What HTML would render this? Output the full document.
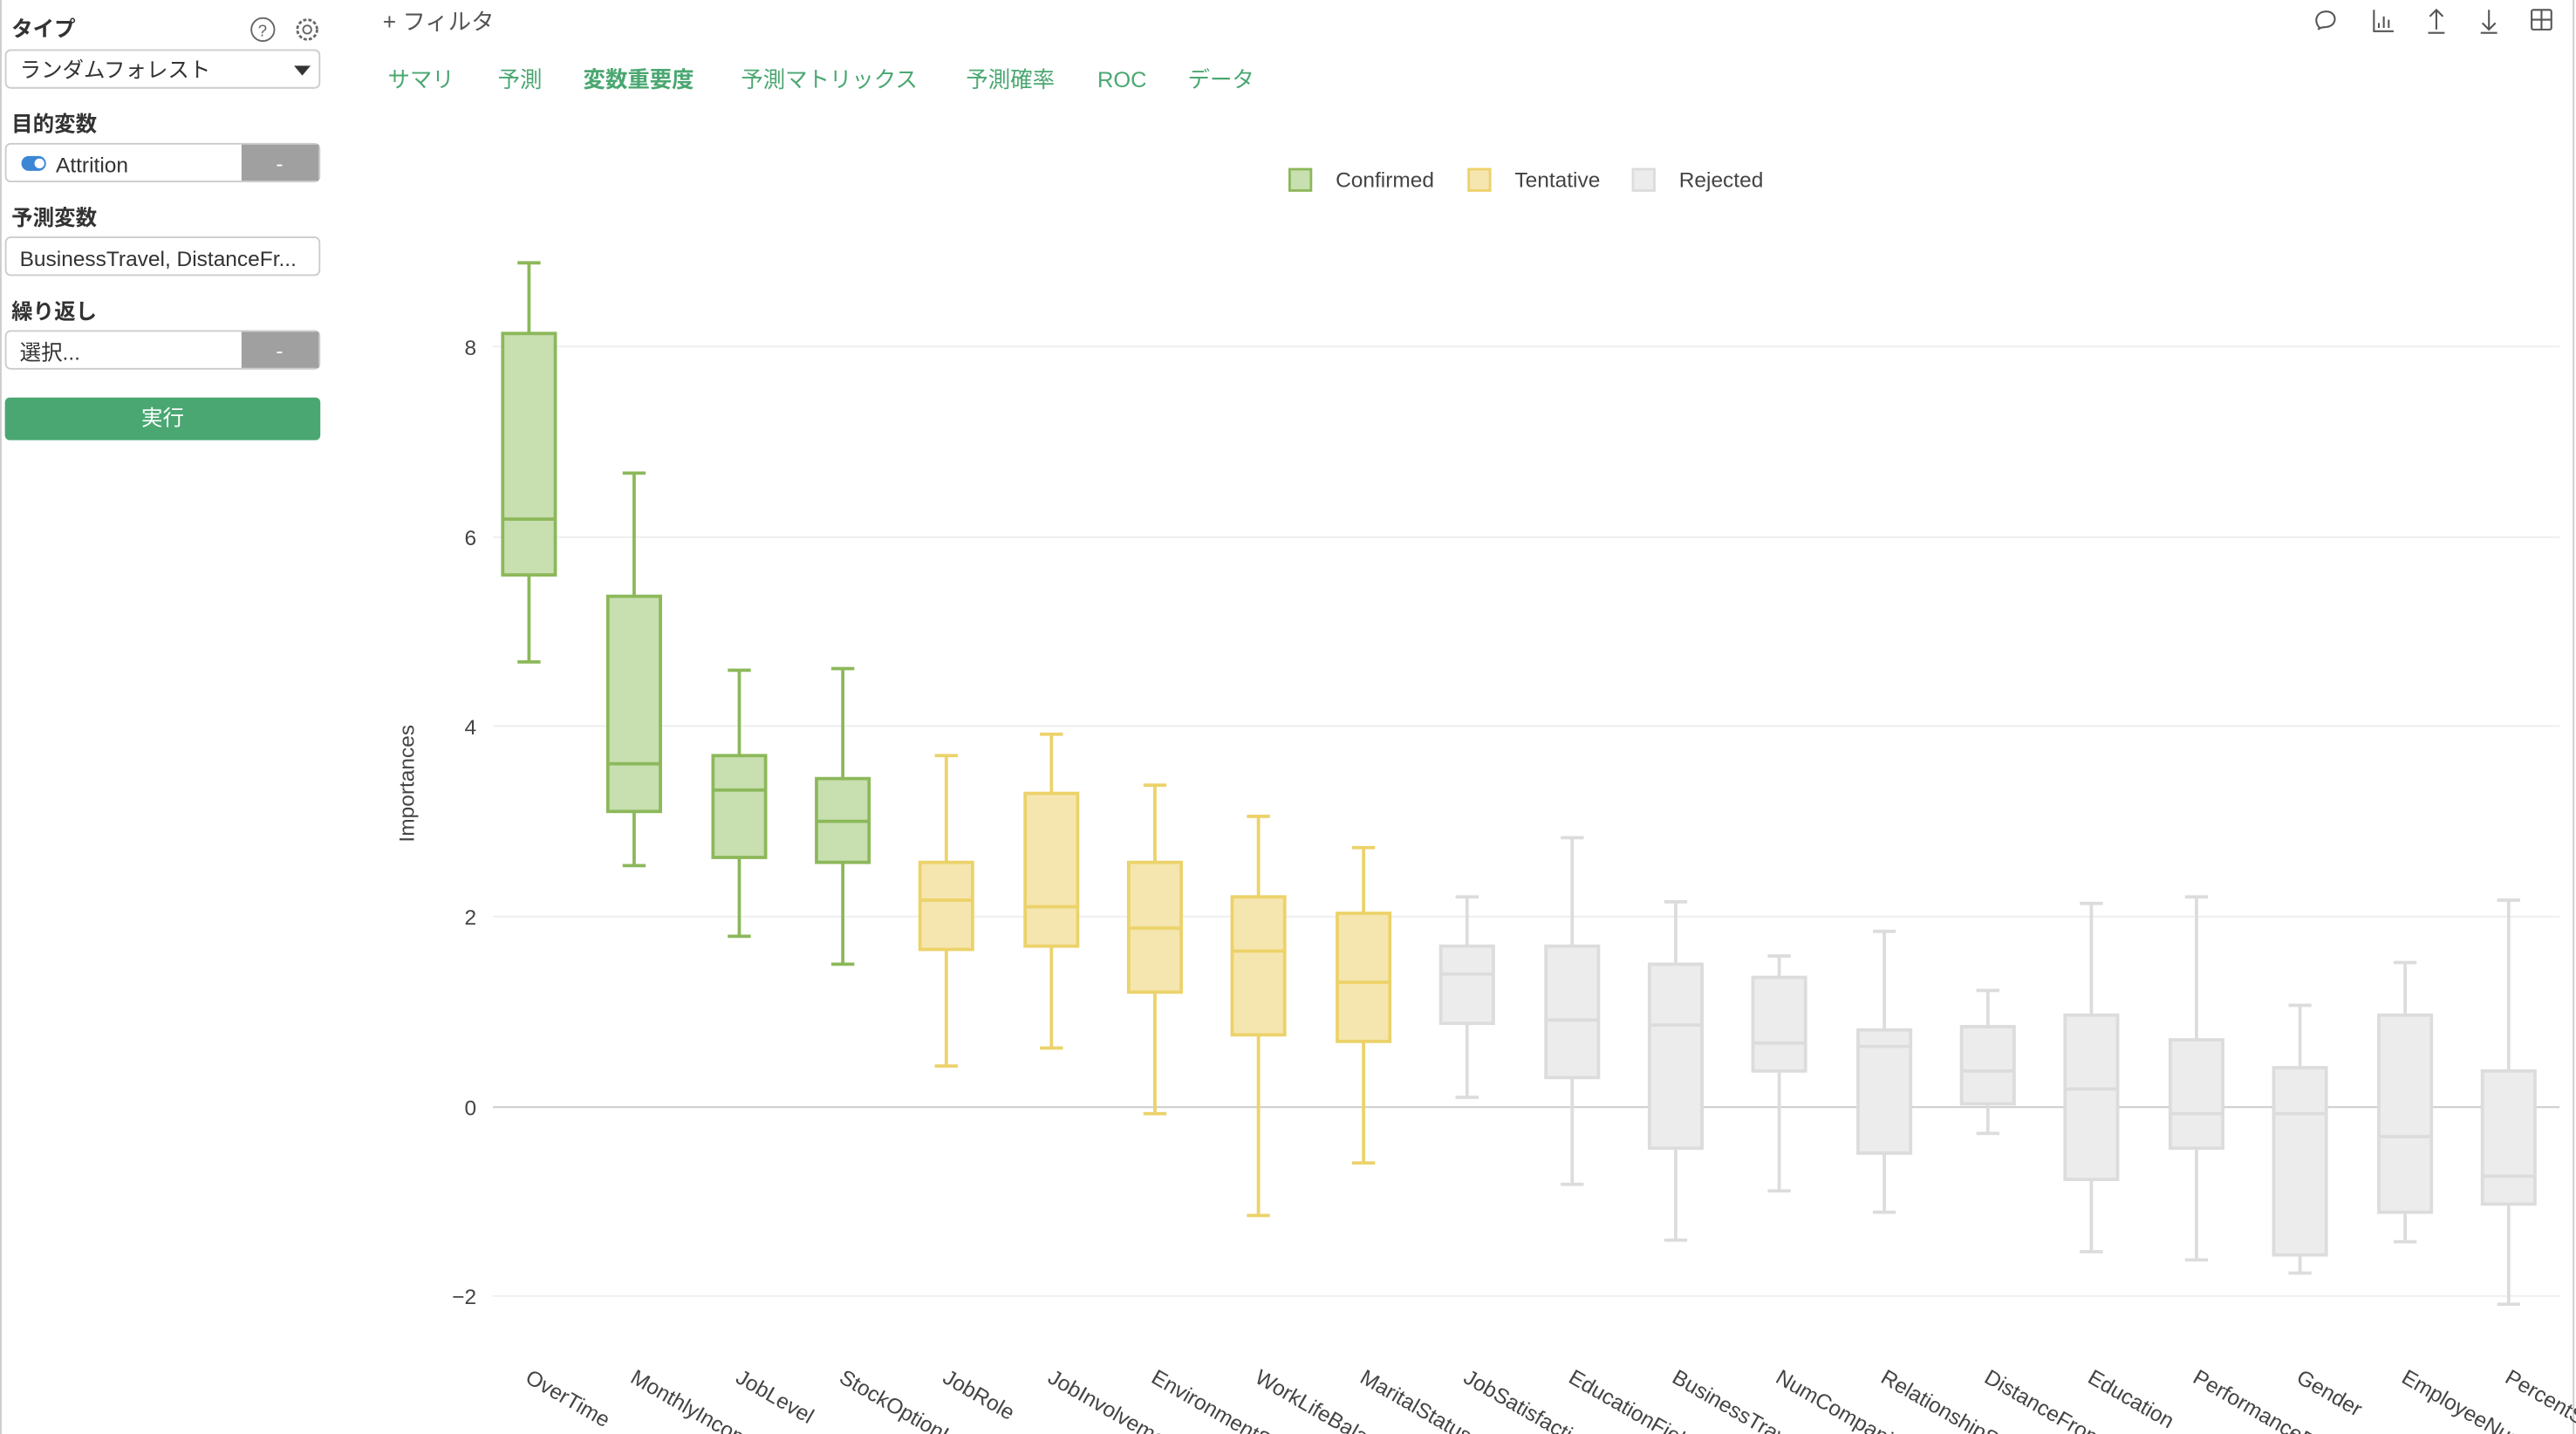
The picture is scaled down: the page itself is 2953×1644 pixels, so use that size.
<!DOCTYPE html>
<html><head><meta charset="utf-8"><style>
html,body{margin:0;padding:0;background:#fff;overflow:hidden}
svg{display:block}
text{font-family:"Liberation Sans","Noto Sans CJK JP",sans-serif}
</style></head><body>
<svg width="2953" height="1644" viewBox="0 0 1568 873" preserveAspectRatio="none" xmlns="http://www.w3.org/2000/svg">
<rect width="1568" height="873" fill="#fff"/>
<line x1="0.5" y1="0" x2="0.5" y2="873" stroke="#ccc"/>
<line x1="1566.5" y1="0" x2="1566.5" y2="873" stroke="#ccc"/>
<g font-size="13" fill="#333">
<text x="7" y="22" font-weight="bold">タイプ</text>
<circle cx="160" cy="18" r="7" fill="none" stroke="#666"/><text x="157" y="22" font-size="10" fill="#666">?</text>
<circle cx="187" cy="18" r="6" fill="none" stroke="#666" stroke-width="1.5" stroke-dasharray="2 1.2"/><circle cx="187" cy="18" r="2.5" fill="none" stroke="#666"/>
<rect x="3.5" y="30.5" width="191" height="23" rx="3" fill="#fff" stroke="#ccc"/>
<text x="12" y="47">ランダムフォレスト</text>
<path d="M179 40 L189 40 L184 46 Z" fill="#333"/>
<text x="7" y="80" font-weight="bold">目的変数</text>
<rect x="3.5" y="87.5" width="191" height="23" rx="3" fill="#fff" stroke="#ccc"/>
<rect x="147" y="88" width="47" height="22" fill="#a0a0a0"/>
<text x="168" y="104" fill="#fff">-</text>
<rect x="13" y="95" width="15" height="9" rx="4.5" fill="#3b87d6"/><circle cx="24" cy="99.5" r="3" fill="#fff"/>
<text x="34" y="105">Attrition</text>
<text x="7" y="137" font-weight="bold">予測変数</text>
<rect x="3.5" y="144.5" width="191" height="23" rx="3" fill="#fff" stroke="#ccc"/>
<text x="12" y="162">BusinessTravel, DistanceFr...</text>
<text x="7" y="194" font-weight="bold">繰り返し</text>
<rect x="3.5" y="201.5" width="191" height="23" rx="3" fill="#fff" stroke="#ccc"/>
<rect x="147" y="202" width="47" height="22" fill="#a0a0a0"/>
<text x="168" y="218" fill="#fff">-</text>
<text x="12" y="219">選択...</text>
<rect x="3" y="242" width="192" height="26" rx="3" fill="#4aa771"/>
<text x="99" y="259" text-anchor="middle" fill="#fff">実行</text>
</g>
<text x="233" y="18" font-size="14" fill="#555">+ フィルタ</text>
<g font-size="13.5" fill="#4aa771">
<text x="236" y="53">サマリ</text><text x="303" y="53">予測</text>
<text x="355" y="53" font-weight="bold">変数重要度</text>
<text x="451" y="53">予測マトリックス</text><text x="588" y="53">予測確率</text>
<text x="668" y="53">ROC</text><text x="723" y="53">データ</text>
</g>
<g fill="none" stroke="#555" stroke-width="1.1">
<path d="M1412 17 C1408 13 1410 7 1416 7 C1422 7 1423 14 1418 16 C1415 17 1413 16 1411 18 Z"/>
<path d="M1445 6 V19 H1457 M1448 17 V14 M1451 17 V10 M1454 17 V12"/>
<path d="M1483 18 V6 M1479 10 L1483 6 L1487 10 M1478 20 H1488"/>
<path d="M1515 6 V18 M1511 14 L1515 18 L1519 14 M1510 20 H1520"/>
<rect x="1541" y="6" width="12" height="12" rx="1"/><path d="M1547 6 V18 M1541 12 H1553"/>
</g>
<g font-size="13" fill="#444">
<rect x="785" y="103" width="13" height="13" fill="#c8dfb0" stroke="#8cb85a" stroke-width="1.5"/><text x="813" y="114">Confirmed</text>
<rect x="894" y="103" width="13" height="13" fill="#f5e6b0" stroke="#ecd26a" stroke-width="1.5"/><text x="922" y="114">Tentative</text>
<rect x="994" y="103" width="13" height="13" fill="#ececec" stroke="#dcdcdc" stroke-width="1.5"/><text x="1022" y="114">Rejected</text>
</g>
<g stroke="#eee"><line x1="300" y1="211" x2="1558" y2="211"/><line x1="300" y1="327" x2="1558" y2="327"/><line x1="300" y1="442" x2="1558" y2="442"/><line x1="300" y1="558" x2="1558" y2="558"/><line x1="300" y1="789" x2="1558" y2="789"/></g>
<line x1="300" y1="674" x2="1558" y2="674" stroke="#ccc"/>
<g font-size="13" fill="#444" text-anchor="end">
<text x="290" y="216">8</text><text x="290" y="332">6</text><text x="290" y="447">4</text><text x="290" y="563">2</text><text x="290" y="679">0</text><text x="290" y="794">−2</text>
</g>
<text transform="translate(252,477) rotate(-90)" font-size="13" fill="#444" text-anchor="middle">Importances</text>

<g stroke-width="2" fill="none">
<g stroke="#8cb85a">
<path d="M322 160V203M322 350V403M315 160H329M315 403H329"/><rect x="306" y="203" width="32" height="147" fill="#c8dfb0"/><path d="M306 316H338"/>
<path d="M386 288V363M386 494V527M379 288H393M379 527H393"/><rect x="370" y="363" width="32" height="131" fill="#c8dfb0"/><path d="M370 465H402"/>
<path d="M450 408V460M450 522V570M443 408H457M443 570H457"/><rect x="434" y="460" width="32" height="62" fill="#c8dfb0"/><path d="M434 481H466"/>
<path d="M513 407V474M513 525V587M506 407H520M506 587H520"/><rect x="497" y="474" width="32" height="51" fill="#c8dfb0"/><path d="M497 500H529"/>
</g>
<g stroke="#ecd26a">
<path d="M576 460V525M576 578V649M569 460H583M569 649H583"/><rect x="560" y="525" width="32" height="53" fill="#f5e6b0"/><path d="M560 548H592"/>
<path d="M640 447V483M640 576V638M633 447H647M633 638H647"/><rect x="624" y="483" width="32" height="93" fill="#f5e6b0"/><path d="M624 552H656"/>
<path d="M703 478V525M703 604V678M696 478H710M696 678H710"/><rect x="687" y="525" width="32" height="79" fill="#f5e6b0"/><path d="M687 565H719"/>
<path d="M766 497V546M766 630V740M759 497H773M759 740H773"/><rect x="750" y="546" width="32" height="84" fill="#f5e6b0"/><path d="M750 579H782"/>
<path d="M830 516V556M830 634V708M823 516H837M823 708H837"/><rect x="814" y="556" width="32" height="78" fill="#f5e6b0"/><path d="M814 598H846"/>
</g>
<g stroke="#dcdcdc">
<path d="M893 546V576M893 623V668M886 546H900M886 668H900"/><rect x="877" y="576" width="32" height="47" fill="#ececec"/><path d="M877 593H909"/>
<path d="M957 510V576M957 656V721M950 510H964M950 721H964"/><rect x="941" y="576" width="32" height="80" fill="#ececec"/><path d="M941 621H973"/>
<path d="M1020 549V587M1020 699V755M1013 549H1027M1013 755H1027"/><rect x="1004" y="587" width="32" height="112" fill="#ececec"/><path d="M1004 624H1036"/>
<path d="M1083 582V595M1083 652V725M1076 582H1090M1076 725H1090"/><rect x="1067" y="595" width="32" height="57" fill="#ececec"/><path d="M1067 635H1099"/>
<path d="M1147 567V627M1147 702V738M1140 567H1154M1140 738H1154"/><rect x="1131" y="627" width="32" height="75" fill="#ececec"/><path d="M1131 637H1163"/>
<path d="M1210 603V625M1210 672V690M1203 603H1217M1203 690H1217"/><rect x="1194" y="625" width="32" height="47" fill="#ececec"/><path d="M1194 652H1226"/>
<path d="M1273 550V618M1273 718V762M1266 550H1280M1266 762H1280"/><rect x="1257" y="618" width="32" height="100" fill="#ececec"/><path d="M1257 663H1289"/>
<path d="M1337 546V633M1337 699V767M1330 546H1344M1330 767H1344"/><rect x="1321" y="633" width="32" height="66" fill="#ececec"/><path d="M1321 678H1353"/>
<path d="M1400 612V650M1400 764V775M1393 612H1407M1393 775H1407"/><rect x="1384" y="650" width="32" height="114" fill="#ececec"/><path d="M1384 678H1416"/>
<path d="M1464 586V618M1464 738V756M1457 586H1471M1457 756H1471"/><rect x="1448" y="618" width="32" height="120" fill="#ececec"/><path d="M1448 692H1480"/>
<path d="M1527 548V652M1527 733V794M1520 548H1534M1520 794H1534"/><rect x="1511" y="652" width="32" height="81" fill="#ececec"/><path d="M1511 716H1543"/>
</g>
</g>

<g font-size="13" fill="#444">
<text transform="translate(319,841) rotate(30)">OverTime</text>
<text transform="translate(383,841) rotate(30)">MonthlyIncome</text>
<text transform="translate(447,841) rotate(30)">JobLevel</text>
<text transform="translate(510,841) rotate(30)">StockOptionLevel</text>
<text transform="translate(573,841) rotate(30)">JobRole</text>
<text transform="translate(637,841) rotate(30)">JobInvolvement</text>
<text transform="translate(700,841) rotate(30)">EnvironmentSatisfaction</text>
<text transform="translate(763,841) rotate(30)">WorkLifeBalance</text>
<text transform="translate(827,841) rotate(30)">MaritalStatus</text>
<text transform="translate(890,841) rotate(30)">JobSatisfaction</text>
<text transform="translate(954,841) rotate(30)">EducationField</text>
<text transform="translate(1017,841) rotate(30)">BusinessTravel</text>
<text transform="translate(1080,841) rotate(30)">NumCompaniesWorked</text>
<text transform="translate(1144,841) rotate(30)">RelationshipSatisfaction</text>
<text transform="translate(1207,841) rotate(30)">DistanceFromHome</text>
<text transform="translate(1270,841) rotate(30)">Education</text>
<text transform="translate(1334,841) rotate(30)">PerformanceRating</text>
<text transform="translate(1397,841) rotate(30)">Gender</text>
<text transform="translate(1461,841) rotate(30)">EmployeeNumber</text>
<text transform="translate(1524,841) rotate(30)">PercentSalaryHike</text>
</g>
</svg>
</body></html>
